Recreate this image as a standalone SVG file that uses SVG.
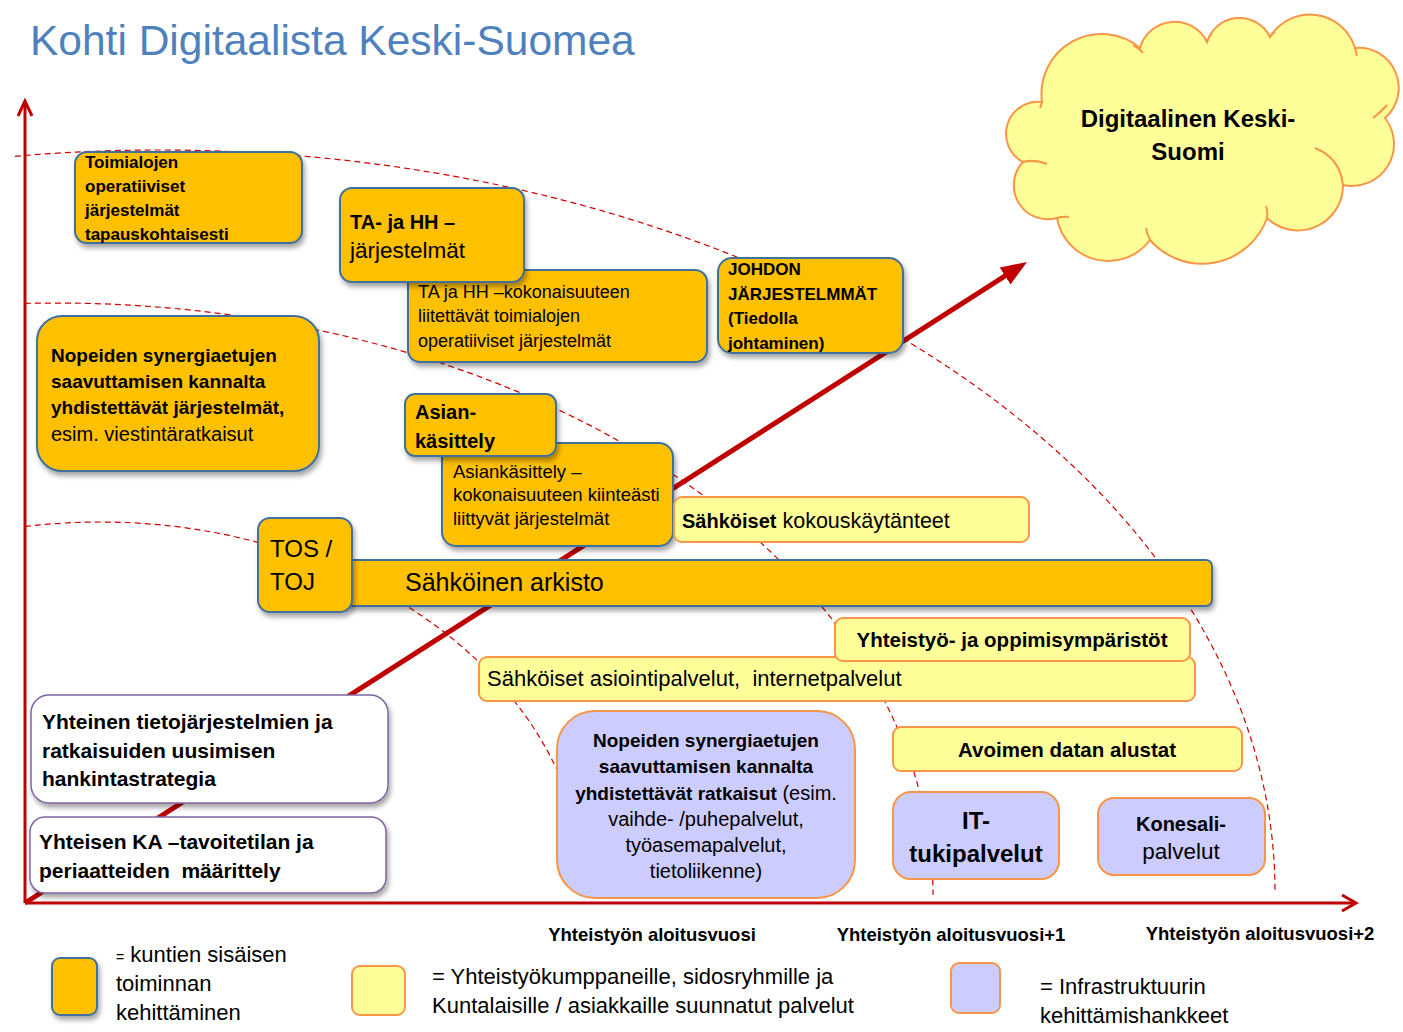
<svg xmlns="http://www.w3.org/2000/svg" width="1403" height="1032" viewBox="0 0 1403 1032">
<defs>
<style>
text { font-family: 'Liberation Sans', Arial, sans-serif; fill: #000; }
.b { font-weight: bold; }
.ob { fill: #ffc000; stroke: #41719c; stroke-width: 2; filter: url(#sh); }
.yb { fill: #ffff99; stroke: #f79646; stroke-width: 2; }
.pb { fill: #ccccff; stroke: #f79646; stroke-width: 2; }
.wb { fill: #ffffff; stroke: #8064a2; stroke-width: 1.5; filter: url(#sh); }
.arc { fill: none; stroke: #d00000; stroke-width: 1.2; stroke-dasharray: 6 4; }
.axis { fill: none; stroke: #c00000; stroke-width: 3; }
.chev { fill: none; stroke: #c00000; stroke-width: 3; stroke-linejoin: miter; }
.cloud { fill: #ffff99; stroke: #f79646; stroke-width: 2; }
.cin { fill: none; stroke: #f79646; stroke-width: 2; }
</style>
<filter id="sh" x="-10%" y="-10%" width="130%" height="140%">
<feDropShadow dx="2" dy="4" stdDeviation="2.5" flood-color="#000" flood-opacity="0.35"/>
</filter>
<marker id="ah" markerUnits="userSpaceOnUse" markerWidth="28" markerHeight="22" refX="8" refY="10" orient="auto">
<path d="M0,0 L26,10 L0,20 Z" fill="#c00000"/>
</marker>
</defs>
<rect x="0" y="0" width="1403" height="1032" fill="#ffffff"/>

<text x="30" y="55" font-size="42.5" style="fill:#4f81bd">Kohti Digitaalista Keski-Suomea</text>

<g id="connectors">
<path class="arc" d="M15,156.3 A1115,742 0 0 1 1275,892"/>
<path class="arc" d="M25,303.4 A877,592 0 0 1 933,895"/>
<path class="arc" d="M25,526.5 A485,373 0 0 1 557,770"/>
<line class="axis" x1="25" y1="903" x2="25" y2="102"/>
<polyline class="chev" points="18,116 25,101 32,116"/>
<line class="axis" x1="25" y1="903" x2="1355" y2="903"/>
<polyline class="chev" points="1342,895 1356,903 1342,911"/>
<line x1="25" y1="903" x2="1011.8" y2="271.7" stroke="#c00000" stroke-width="5" marker-end="url(#ah)"/>
</g>

<g id="cloud">
<path class="cloud" d="M1042,102 A32,32 0 0 0 1023,162 A34,34 0 0 0 1057,218 A52,52 0 0 0 1150,240 A69,69 0 0 0 1267,218 A45,45 0 0 0 1343,185 A42,42 0 0 0 1385,118 A40,40 0 0 0 1355,48 A47,47 0 0 0 1270,37 A34,34 0 0 0 1207,42 A36,36 0 0 0 1140,48 A60,60 0 0 0 1042,102 Z"/>
<path class="cin" d="M1023,162 q12,-3 24,2 M1057,218 q6,-2 12,-1 M1150,240 q-3,-6 -4,-12 M1267,218 q1,-6 -1,-12 M1315,148 Q1340,158 1343,185 M1373,118 q8,-6 14,-13 M1355,48 q1,4 2,8 M1270,37 q2,-3 5,-5 M1207,42 q2,-5 5,-9 M1133,45 q6,3 10,8 M1042,102 q-1,4 -2,6"/>
<text class="b" x="1188" y="127" font-size="24" text-anchor="middle">Digitaalinen Keski-</text>
<text class="b" x="1188" y="160" font-size="24" text-anchor="middle">Suomi</text>
</g>

<g id="toimialojen">
<rect class="ob" x="75" y="152" width="227" height="91" rx="12"/>
<text class="b" font-size="17"><tspan x="85" y="168">Toimialojen</tspan><tspan x="85" y="192">operatiiviset</tspan><tspan x="85" y="216">järjestelmät</tspan><tspan x="85" y="240">tapauskohtaisesti</tspan></text>
</g>

<g id="ta-kokonaisuus">
<rect class="ob" x="408" y="270" width="299" height="92" rx="12"/>
<text font-size="18"><tspan x="418" y="298">TA ja HH –kokonaisuuteen</tspan><tspan x="418" y="322">liitettävät toimialojen</tspan><tspan x="418" y="347">operatiiviset järjestelmät</tspan></text>
</g>

<g id="ta-hh">
<rect class="ob" x="340" y="188" width="184" height="94" rx="12"/>
<text class="b" x="350" y="229" font-size="20">TA- ja HH –</text>
<text x="350" y="258" font-size="22.5">järjestelmät</text>
</g>

<g id="johdon">
<rect class="ob" x="718" y="258" width="185" height="95" rx="14"/>
<text class="b" font-size="17"><tspan x="728" y="275">JOHDON</tspan><tspan x="728" y="300">JÄRJESTELMMÄT</tspan><tspan x="728" y="324">(Tiedolla</tspan><tspan x="728" y="349">johtaminen)</tspan></text>
</g>

<g id="nopeiden-jarjestelmat">
<rect class="ob" x="37" y="316" width="282" height="155" rx="25"/>
<text font-size="19"><tspan class="b" x="51" y="362">Nopeiden synergiaetujen</tspan><tspan class="b" x="51" y="388">saavuttamisen kannalta</tspan><tspan class="b" x="51" y="414">yhdistettävät järjestelmät,</tspan><tspan x="51" y="441" font-size="20">esim. viestintäratkaisut</tspan></text>
</g>

<g id="asiankasittely-kokonaisuus">
<rect class="ob" x="442" y="443" width="231" height="103" rx="14"/>
<text font-size="18.5"><tspan x="453" y="478">Asiankäsittely –</tspan><tspan x="453" y="501">kokonaisuuteen kiinteästi</tspan><tspan x="453" y="525">liittyvät järjestelmät</tspan></text>
</g>

<g id="asian-kasittely">
<rect class="ob" x="405" y="394" width="151" height="62" rx="10"/>
<text class="b" font-size="20"><tspan x="415" y="419">Asian-</tspan><tspan x="415" y="448">käsittely</tspan></text>
</g>

<g id="kokouskaytanteet">
<rect class="yb" x="674" y="497" width="355" height="45" rx="8"/>
<text x="682" y="528" font-size="21.5"><tspan class="b" font-size="20">Sähköiset</tspan> kokouskäytänteet</text>
</g>

<g id="arkisto">
<rect class="ob" x="345" y="560" width="867" height="46" rx="6"/>
<text x="405" y="591" font-size="25">Sähköinen arkisto</text>
</g>

<g id="tos-toj">
<rect class="ob" x="258" y="518" width="94" height="94" rx="12"/>
<text font-size="24"><tspan x="270" y="557">TOS /</tspan><tspan x="270" y="590">TOJ</tspan></text>
</g>

<g id="asiointipalvelut">
<rect class="yb" x="479" y="657" width="716" height="44" rx="8"/>
<text x="487" y="686" font-size="22">Sähköiset asiointipalvelut,&#160; internetpalvelut</text>
</g>

<g id="yhteistyo">
<rect class="yb" x="835" y="618" width="355" height="43" rx="8"/>
<text class="b" x="1012" y="647" font-size="20.5" text-anchor="middle">Yhteistyö- ja oppimisympäristöt</text>
</g>

<g id="hankintastrategia">
<rect class="wb" x="31" y="695" width="357" height="108" rx="18"/>
<text class="b" font-size="21"><tspan x="42" y="729">Yhteinen tietojärjestelmien ja</tspan><tspan x="42" y="758">ratkaisuiden uusimisen</tspan><tspan x="42" y="786">hankintastrategia</tspan></text>
</g>

<g id="ka-tavoitetila">
<rect class="wb" x="30" y="817" width="356" height="76" rx="15"/>
<text class="b" font-size="21"><tspan x="39" y="849">Yhteisen KA –tavoitetilan ja</tspan><tspan x="39" y="878">periaatteiden&#160; määrittely</tspan></text>
</g>

<g id="nopeiden-ratkaisut">
<rect class="pb" x="557" y="711" width="298" height="187" rx="38"/>
<text font-size="20" text-anchor="middle"><tspan class="b" font-size="19" x="706" y="747">Nopeiden synergiaetujen</tspan><tspan class="b" font-size="19" x="706" y="773">saavuttamisen kannalta</tspan><tspan x="706" y="800"><tspan class="b" font-size="19">yhdistettävät ratkaisut</tspan> (esim.</tspan><tspan x="706" y="826">vaihde- /puhepalvelut,</tspan><tspan x="706" y="852">työasemapalvelut,</tspan><tspan x="706" y="878">tietoliikenne)</tspan></text>
</g>

<g id="avoimen-data">
<rect class="yb" x="893" y="727" width="349" height="44" rx="8"/>
<text class="b" x="1067" y="757" font-size="20.5" text-anchor="middle">Avoimen datan alustat</text>
</g>

<g id="it-tuki">
<rect class="pb" x="893" y="792" width="166" height="87" rx="18"/>
<text class="b" font-size="24" text-anchor="middle"><tspan x="976" y="829">IT-</tspan><tspan x="976" y="862">tukipalvelut</tspan></text>
</g>

<g id="konesali">
<rect class="pb" x="1098" y="798" width="167" height="77" rx="16"/>
<text class="b" x="1181" y="831" font-size="20" text-anchor="middle">Konesali-</text>
<text x="1181" y="859" font-size="22.5" text-anchor="middle">palvelut</text>
</g>

<g id="axis-labels">
<text class="b" x="652" y="941" font-size="18.5" text-anchor="middle">Yhteistyön aloitusvuosi</text>
<text class="b" x="951" y="941" font-size="18.5" text-anchor="middle">Yhteistyön aloitusvuosi+1</text>
<text class="b" x="1260" y="940" font-size="18.5" text-anchor="middle">Yhteistyön aloitusvuosi+2</text>
</g>

<g id="legend">
<rect class="ob" x="52" y="958" width="45" height="57" rx="8"/>
<text font-size="22"><tspan x="116" y="962"><tspan font-size="14">=</tspan> kuntien sisäisen</tspan><tspan x="116" y="991">toiminnan</tspan><tspan x="116" y="1020">kehittäminen</tspan></text>
<rect class="yb" x="352" y="966" width="53" height="49" rx="8"/>
<text font-size="22"><tspan x="432" y="984">= Yhteistyökumppaneille, sidosryhmille ja</tspan><tspan x="432" y="1013">Kuntalaisille / asiakkaille suunnatut palvelut</tspan></text>
<rect class="pb" x="951" y="963" width="49" height="50" rx="8"/>
<text font-size="22"><tspan x="1040" y="994">= Infrastruktuurin</tspan><tspan x="1040" y="1023">kehittämishankkeet</tspan></text>
</g>
</svg>
